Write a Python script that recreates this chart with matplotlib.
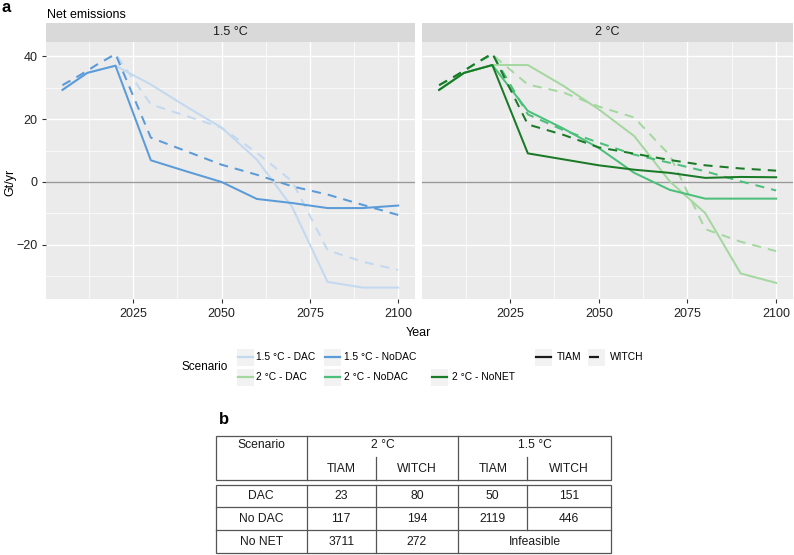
import matplotlib
matplotlib.use('Agg')
import matplotlib.pyplot as plt
from matplotlib.patches import Rectangle

plt.rcParams['font.family'] = ['Liberation Sans', 'DejaVu Sans']

# model time steps
years_tiam = [2005, 2012, 2020, 2030, 2040, 2050, 2060, 2070, 2080, 2090, 2100]
years_witch = [2005, 2010, 2015, 2020, 2030, 2040, 2050, 2060, 2070, 2080, 2090, 2100]

# net emissions (Gt/yr), 1.5 °C panel
tiam_15_dac = [29.3, 34.7, 37.0, 31.0, 24.0, 17.3, 7.1, -8.0, -31.8, -33.6, -33.6]
witch_15_dac = [30.8, 34.0, 37.5, 40.7, 24.7, 21.0, 17.3, 9.3, 0.2, -21.7, -25.4, -28.0]
tiam_15_nodac = [29.3, 34.7, 37.0, 6.9, 3.4, 0.0, -5.4, -6.7, -8.3, -8.3, -7.5]
witch_15_nodac = [30.8, 34.0, 37.5, 40.7, 14.1, 9.8, 5.5, 2.3, -1.4, -4.0, -7.3, -10.5]

# net emissions (Gt/yr), 2 °C panel
tiam_2_dac = [29.3, 34.7, 37.2, 37.2, 30.6, 23.1, 14.6, 0.2, -9.9, -29.1, -32.1]
witch_2_dac = [30.8, 34.0, 37.5, 40.5, 31.0, 28.5, 24.0, 20.5, 8.5, -15.0, -19.0, -22.0]
tiam_2_nodac = [29.3, 34.7, 37.2, 22.6, 17.0, 10.8, 2.9, -2.5, -5.3, -5.3, -5.3]
witch_2_nodac = [30.8, 34.0, 37.5, 40.7, 21.5, 16.5, 12.5, 8.7, 6.1, 3.4, 0.2, -2.7]
tiam_2_nonet = [29.3, 34.7, 37.2, 9.1, 7.2, 5.3, 3.9, 2.9, 1.3, 1.6, 1.5]
witch_2_nonet = [30.8, 34.0, 37.5, 40.9, 18.3, 15.0, 11.0, 9.0, 7.0, 5.3, 4.3, 3.6]

scenarios = ['1.5 °C - DAC', '1.5 °C - NoDAC', '2 °C - DAC', '2 °C - NoDAC', '2 °C - NoNET']
colors = ['#c3d9f0', '#5b9bd8', '#a5d8a0', '#4cbf7a', '#1a7a25']
panels = ['1.5 °C', '2 °C']

panel_series = {
    '1.5 °C': [(0, tiam_15_dac, witch_15_dac), (1, tiam_15_nodac, witch_15_nodac)],
    '2 °C': [(2, tiam_2_dac, witch_2_dac), (3, tiam_2_nodac, witch_2_nodac),
             (4, tiam_2_nonet, witch_2_nonet)],
}

# table b
tab_rows = ['DAC', 'No DAC', 'No NET']
tab_2_tiam = ['23', '117', '3711']
tab_2_witch = ['80', '194', '272']
tab_15_tiam = ['50', '2119', 'Infeasible']
tab_15_witch = ['151', '446', '']

W, H = 794, 555
fig = plt.figure(figsize=(W / 100, H / 100), dpi=100)


def px_axes(x0, y0, x1, y1):
    return fig.add_axes([x0 / W, 1 - y1 / H, (x1 - x0) / W, (y1 - y0) / H])


dash = (0, (4.5, 3.5))
all_vals = [v for p in panel_series.values() for s in p for v in s[1] + s[2]]
lo, hi = min(all_vals), max(all_vals)
pad = 0.05 * (hi - lo)

boxes = [(45.7, 415), (422.3, 793)]
for k, name in enumerate(panels):
    x0, x1 = boxes[k]
    ax = px_axes(x0, 41.7, x1, 299.3)
    ax.set_facecolor('#ebebeb')
    for sp in ax.spines.values():
        sp.set_visible(False)
    ax.set_xlim(2005 - 0.05 * 95, 2100 + 0.05 * 95)
    ax.set_ylim(lo - pad, hi + pad)
    ax.set_xticks([2025, 2050, 2075, 2100])
    ax.set_xticks([2012.5, 2037.5, 2062.5, 2087.5], minor=True)
    ax.set_yticks([-20, 0, 20, 40])
    ax.set_yticks([-30, -10, 10, 30], minor=True)
    ax.grid(which='major', color='white', lw=1.0)
    ax.grid(which='minor', color='white', lw=0.5)
    ax.set_axisbelow(True)
    ax.tick_params(which='major', length=3, width=0.8, color='#333333',
                   labelsize=9, labelcolor='#222222', pad=3)
    ax.tick_params(which='minor', length=0)
    ax.set_yticklabels(['\u221220', '0', '20', '40'])
    if k == 1:
        ax.tick_params(axis='y', which='both', length=0, labelleft=False)
    ax.axhline(0, color='#999999', lw=1.0, zorder=1)
    for idx, tv, wv in panel_series[name]:
        ax.plot(years_tiam, tv, color=colors[idx], lw=1.45, zorder=2)
        ax.plot(years_witch, wv, color=colors[idx], lw=1.45, ls=dash, zorder=2)

    st = px_axes(x0, 22.7, x1, 41.7)
    st.set_facecolor('#d9d9d9')
    st.set_xticks([])
    st.set_yticks([])
    for sp in st.spines.values():
        sp.set_visible(False)
    st.text(0.5, 0.5, name, ha='center', va='center', fontsize=9, color='#1a1a1a',
            transform=st.transAxes)

# overlay in pixel coordinates for labels, legend and table
lay = fig.add_axes([0, 0, 1, 1])
lay.set_xlim(0, W)
lay.set_ylim(H, 0)
lay.axis('off')
lay.patch.set_alpha(0)

lay.text(2, 8, 'a', fontsize=12, fontweight='bold', va='center', ha='left')
lay.text(47, 15, 'Net emissions', fontsize=9, va='center', ha='left')
lay.text(10, 182, 'Gt/yr', fontsize=9, rotation=90, va='center', ha='center')
lay.text(418, 333, 'Year', fontsize=9, va='center', ha='center')

# legend: scenario colours
lay.text(228, 367, 'Scenario', fontsize=8.5, ha='right', va='center')
key_pos = [(245, 357, 256.5), (332, 357, 344), (245, 377, 256.5),
           (332, 377, 344), (439, 377, 452)]
for (cx, cy, tx), lab, c in zip(key_pos, scenarios, colors):
    lay.add_patch(Rectangle((cx - 8.5, cy - 8.5), 17, 17, color='#f2f2f2', lw=0))
    lay.plot([cx - 7.5, cx + 7.5], [cy, cy], color=c, lw=1.6)
    lay.text(tx, cy, lab, fontsize=7.4, ha='left', va='center')

# legend: model line types
for cx, lab, ls, tx in [(543.5, 'TIAM', '-', 556.5), (596.5, 'WITCH', dash, 610)]:
    lay.add_patch(Rectangle((cx - 8.5, 357 - 8.5), 17, 17, color='#f2f2f2', lw=0))
    lay.plot([cx - 7.5, cx + 7.5], [357, 357], color='#1a1a1a', lw=1.6, ls=ls)
    lay.text(tx, 357, lab, fontsize=7.4, ha='left', va='center')

# table b
lay.text(219, 420, 'b', fontsize=12, fontweight='bold', va='center', ha='left')
xe = [215.7, 306.7, 375.7, 458.3, 527.3, 610.7]
lc, lw = '#555555', 0.9
# header box
lay.add_patch(Rectangle((xe[0], 435.7), xe[-1] - xe[0], 480 - 435.7, fill=False, ec=lc, lw=lw))
for x in [xe[1], xe[3]]:
    lay.plot([x, x], [435.7, 480], color=lc, lw=lw)
for x in [xe[2], xe[4]]:
    lay.plot([x, x], [457, 480], color=lc, lw=lw)
tc = '#1a1a1a'
fs = 8.7
lay.text((xe[0] + xe[1]) / 2, 445, 'Scenario', fontsize=fs, ha='center', va='center', color=tc)
lay.text((xe[1] + xe[3]) / 2, 445, '2 °C', fontsize=fs, ha='center', va='center', color=tc)
lay.text((xe[3] + xe[5]) / 2, 445, '1.5 °C', fontsize=fs, ha='center', va='center', color=tc)
for i, lab in enumerate(['TIAM', 'WITCH', 'TIAM', 'WITCH']):
    lay.text((xe[i + 1] + xe[i + 2]) / 2, 469, lab, fontsize=fs, ha='center', va='center', color=tc)

# body box
ye = [485, 507.3, 530, 553.3]
lay.add_patch(Rectangle((xe[0], ye[0]), xe[-1] - xe[0], ye[-1] - ye[0], fill=False, ec=lc, lw=lw))
for y in ye[1:-1]:
    lay.plot([xe[0], xe[-1]], [y, y], color=lc, lw=lw)
for x in xe[1:4]:
    lay.plot([x, x], [ye[0], ye[-1]], color=lc, lw=lw)
lay.plot([xe[4], xe[4]], [ye[0], ye[2]], color=lc, lw=lw)
for r, lab in enumerate(tab_rows):
    yc = (ye[r] + ye[r + 1]) / 2
    lay.text((xe[0] + xe[1]) / 2, yc, lab, fontsize=fs, ha='center', va='center', color=tc)
    lay.text((xe[1] + xe[2]) / 2, yc, tab_2_tiam[r], fontsize=fs, ha='center', va='center', color=tc)
    lay.text((xe[2] + xe[3]) / 2, yc, tab_2_witch[r], fontsize=fs, ha='center', va='center', color=tc)
    if tab_15_witch[r]:
        lay.text((xe[3] + xe[4]) / 2, yc, tab_15_tiam[r], fontsize=fs, ha='center', va='center', color=tc)
        lay.text((xe[4] + xe[5]) / 2, yc, tab_15_witch[r], fontsize=fs, ha='center', va='center', color=tc)
    else:
        lay.text((xe[3] + xe[5]) / 2, yc, tab_15_tiam[r], fontsize=fs, ha='center', va='center', color=tc)

fig.savefig('out.png', dpi=100)
